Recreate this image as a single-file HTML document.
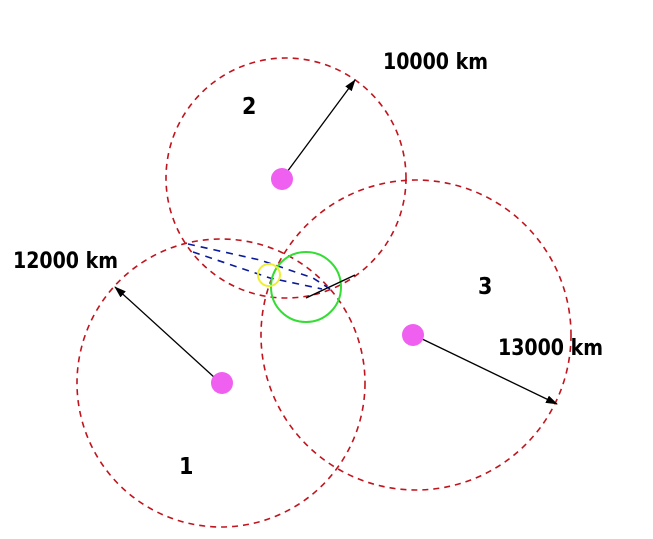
<!DOCTYPE html>
<html><head><meta charset="utf-8"><style>
html,body{margin:0;padding:0;background:#fff;width:653px;height:539px;overflow:hidden}
text{font-family:"DejaVu Sans Condensed","DejaVu Sans",sans-serif;font-weight:bold;fill:#000}
</style></head><body>
<svg width="653" height="539" viewBox="0 0 653 539" xmlns="http://www.w3.org/2000/svg">
<defs><marker id="a" markerWidth="12" markerHeight="8" refX="11" refY="4" orient="auto" markerUnits="userSpaceOnUse"><path d="M0,0 L12,4 L0,8 Z" fill="#000"/></marker></defs>
<g fill="none" stroke="#c0141e" stroke-width="1.6" stroke-dasharray="6,5">
<circle cx="221" cy="383" r="144"/>
<circle cx="286" cy="178" r="120"/>
<circle cx="416" cy="335" r="155"/>
</g>
<g fill="none" stroke="#0a1a9a" stroke-width="1.6" stroke-dasharray="7,6">
<polyline points="188,244 260,260 313,278 330,289"/>
<polyline points="193,252 270,278 322,289"/>
</g>
<circle cx="306" cy="287" r="35" fill="none" stroke="#33dd33" stroke-width="2"/>
<circle cx="269" cy="275" r="11" fill="none" stroke="#eeee33" stroke-width="2"/>
<line x1="306" y1="298" x2="355" y2="275" stroke="#000" stroke-width="1.5"/>
<g stroke="#000" stroke-width="1.3">
<line x1="287" y1="172" x2="355" y2="80" marker-end="url(#a)"/>
<line x1="215" y1="378" x2="115" y2="287" marker-end="url(#a)"/>
<line x1="418" y1="337" x2="557" y2="404" marker-end="url(#a)"/>
</g>
<g fill="#f060f0">
<circle cx="282" cy="179" r="11"/>
<circle cx="222" cy="383" r="11"/>
<circle cx="413" cy="335" r="11"/>
</g>
<text x="242" y="114" font-size="23">2</text>
<text x="478" y="294" font-size="23">3</text>
<text x="179" y="474" font-size="23">1</text>
<text x="383" y="69" font-size="22" textLength="105" lengthAdjust="spacingAndGlyphs">10000 km</text>
<text x="13" y="268" font-size="22" textLength="105" lengthAdjust="spacingAndGlyphs">12000 km</text>
<text x="498" y="355" font-size="22" textLength="105" lengthAdjust="spacingAndGlyphs">13000 km</text>
</svg>
</body></html>
